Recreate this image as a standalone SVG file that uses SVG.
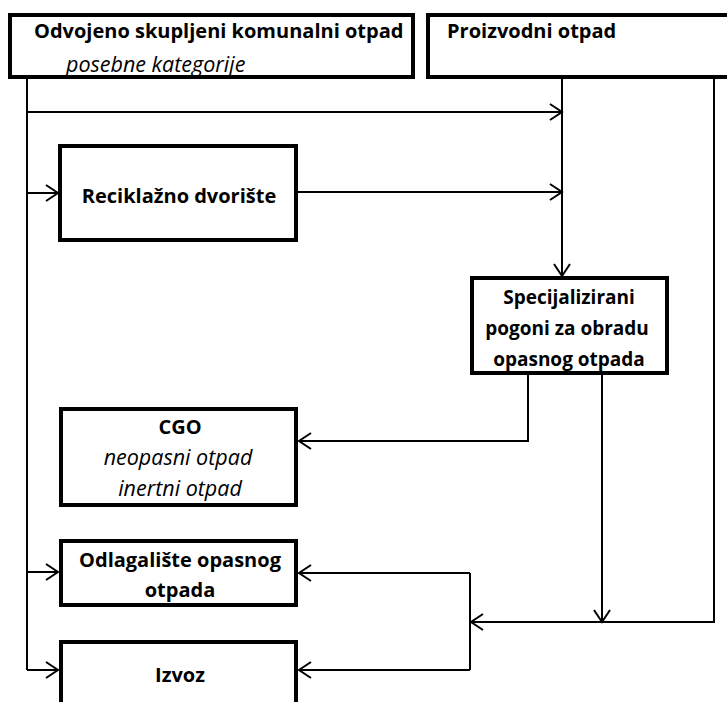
<svg xmlns="http://www.w3.org/2000/svg" width="727" height="702" viewBox="0 0 727 702">
<style>
.box{fill:#fff;stroke:#000;stroke-width:4}
.c{fill:none;stroke:#000;stroke-width:2}
text{font-family:"Open Sans",Lato,"Liberation Sans",sans-serif;font-size:20px;fill:#000}
.b{font-weight:bold}
.i{font-style:italic;font-size:21.5px}
.s{font-size:19px}
.m{text-anchor:middle}
</style>
<defs>
<marker id="ah" markerUnits="userSpaceOnUse" markerWidth="16" markerHeight="20" refX="14" refY="10" orient="auto" overflow="visible">
<path d="M2,2 L14,10 L2,18" fill="none" stroke="#000" stroke-width="2"/>
</marker>
</defs>
<rect width="727" height="702" fill="#fff"/>
<g id="connectors">
<path class="c" d="M27,79 V670"/>
<path class="c" d="M27,112 H562" marker-end="url(#ah)"/>
<path class="c" d="M27,193 H58" marker-end="url(#ah)"/>
<path class="c" d="M298,192 H562" marker-end="url(#ah)"/>
<path class="c" d="M562,79 V276" marker-end="url(#ah)"/>
<path class="c" d="M714,79 V622 H471" marker-end="url(#ah)"/>
<path class="c" d="M602,375 V622" marker-end="url(#ah)"/>
<path class="c" d="M528,375 V441 H299" marker-end="url(#ah)"/>
<path class="c" d="M470,573 V670"/>
<path class="c" d="M470,573 H299" marker-end="url(#ah)"/>
<path class="c" d="M470,670 H299" marker-end="url(#ah)"/>
<path class="c" d="M27,572 H58" marker-end="url(#ah)"/>
<path class="c" d="M27,670 H58" marker-end="url(#ah)"/>
</g>
<g id="komunalni">
<rect class="box" x="10" y="15" width="403" height="62"/>
<text class="b" x="34" y="38">Odvojeno skupljeni komunalni otpad</text>
<text class="i" x="66" y="72">posebne kategorije</text>
</g>
<g id="proizvodni">
<rect class="box" x="428" y="15" width="310" height="62"/>
<text class="b" x="447" y="38">Proizvodni otpad</text>
</g>
<g id="reciklazno">
<rect class="box" x="60" y="146" width="236" height="94"/>
<text class="b m" x="179" y="203">Reciklažno dvorište</text>
</g>
<g id="specijalizirani">
<rect class="box" x="472" y="278" width="195" height="95"/>
<text class="b m s" x="569" y="304">Specijalizirani</text>
<text class="b m s" x="567" y="335">pogoni za obradu</text>
<text class="b m s" x="569" y="366">opasnog otpada</text>
</g>
<g id="cgo">
<rect class="box" x="61" y="409" width="235" height="96"/>
<text class="b m" x="180" y="434">CGO</text>
<text class="i m" x="178" y="465">neopasni otpad</text>
<text class="i m" x="180" y="496">inertni otpad</text>
</g>
<g id="odlagaliste">
<rect class="box" x="61" y="541" width="235" height="64"/>
<text class="b m" x="180" y="567">Odlagalište opasnog</text>
<text class="b m" x="180" y="597">otpada</text>
</g>
<g id="izvoz">
<rect class="box" x="61" y="642" width="235" height="80"/>
<text class="b m" x="180" y="682">Izvoz</text>
</g>
</svg>
